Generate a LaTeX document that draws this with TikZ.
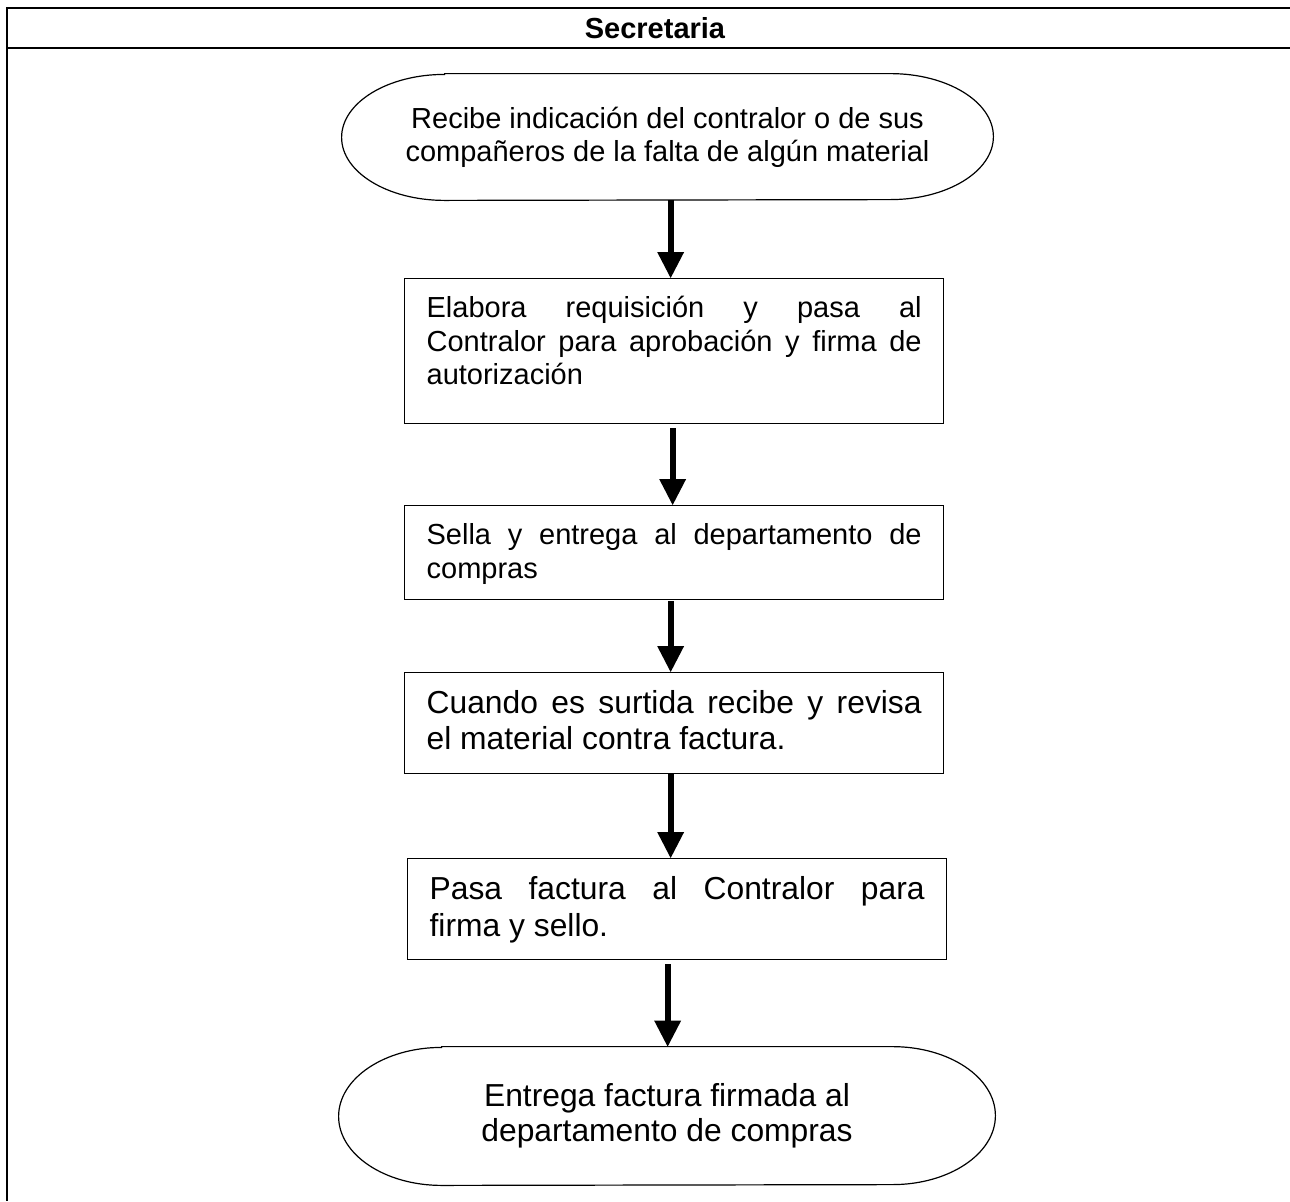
\documentclass[tikz,border=0pt]{standalone}
\usepackage{fontspec}
\setmainfont{Liberation Sans}
\usetikzlibrary{arrows.meta,calc}
\tikzset{
  frame/.style={line width=0.85pt, line join=miter},
  stepbox/.style={draw, line width=0.65pt, inner xsep=11pt, inner ysep=0pt, anchor=north west},
  terminal/.style={inner sep=0pt, align=center},
  termline/.style={draw, line width=0.6pt},
  flow/.style={line width=3pt, -{Triangle[width=13.5pt,length=13pt,line width=0pt]}},
}
\newcommand{\boxtext}[5]{\parbox[t][#1][t]{247.5pt}{\fontsize{#2}{#3}\selectfont\tolerance=10000\hbadness=10000\hyphenpenalty=10000\rule{0pt}{#4}#5}}
\begin{document}
\begin{tikzpicture}[x=0.5pt,y=-0.5pt]
\useasboundingbox (0,0) rectangle (1290,1201);
% frame
\draw[frame] (1290,8.3) -- (6.7,8.3) -- (6.7,1201);
\draw[frame] (6.7,48) -- (1290,48);
\node[font=\bfseries\fontsize{14.5pt}{16pt}\selectfont, anchor=base, inner sep=0pt] (hdr) at (655,38) {Secretaria};

% terminals
\node[terminal, minimum width=325.5pt, minimum height=63pt, font=\fontsize{14.5pt}{16.5pt}\selectfont] (s1) at (667.5,137) {Recibe indicación del contralor o de sus\\compañeros de la falta de algún material};
\draw[termline] ([xshift=51.5pt]s1.north west) -- ([xshift=-51.5pt]s1.north east) arc[start angle=90,end angle=-90,x radius=51.5pt,y radius=31.5pt] -- ([xshift=51.5pt]s1.south west) arc[start angle=270,end angle=90,x radius=51.5pt,y radius=31.5pt] -- cycle;

\node[terminal, minimum width=328pt, minimum height=69pt, font=\fontsize{15.9pt}{17.5pt}\selectfont] (s2) at (667,1116) {Entrega factura firmada al\\departamento de compras};
\draw[termline] ([xshift=51.5pt]s2.north west) -- ([xshift=-51.5pt]s2.north east) arc[start angle=90,end angle=-90,x radius=51.5pt,y radius=34.5pt] -- ([xshift=51.5pt]s2.south west) arc[start angle=270,end angle=90,x radius=51.5pt,y radius=34.5pt] -- cycle;

% process boxes
\node[stepbox] (b2) at (404,278) {\boxtext{72.5pt}{14.5pt}{16.75pt}{19.5pt}{Elabora requisición y pasa al\linebreak Contralor para aprobación y firma de\linebreak autorización}};
\node[stepbox] (b3) at (404,505) {\boxtext{47pt}{14.5pt}{17pt}{19.25pt}{Sella y entrega al departamento de\linebreak compras}};
\node[stepbox] (b4) at (404,672) {\boxtext{50.5pt}{15.9pt}{18pt}{20.5pt}{Cuando es surtida recibe y revisa\linebreak el material contra factura.}};
\node[stepbox] (b5) at (407,858) {\boxtext{50.5pt}{15.9pt}{18.5pt}{20.5pt}{Pasa factura al Contralor para\linebreak firma y sello.}};

% connectors
\draw[flow] ([xshift=-1.75pt]b2.north |- s1.south) -- ([xshift=-1.75pt]b2.north);
\draw[flow] ([xshift=-0.75pt,yshift=-2pt]b2.south) -- ([xshift=-0.75pt]b3.north);
\draw[flow] ([xshift=-1.75pt,yshift=-0.5pt]b3.south) -- ([xshift=-1.75pt]b4.north);
\draw[flow] ([xshift=-1.75pt]b4.south) -- ([xshift=-1.75pt]b4.south |- b5.north);
\draw[flow] ([xshift=-4.75pt,yshift=-2pt]b5.south) -- ([xshift=-4.75pt]b5.south |- s2.north);
\end{tikzpicture}
\end{document}
